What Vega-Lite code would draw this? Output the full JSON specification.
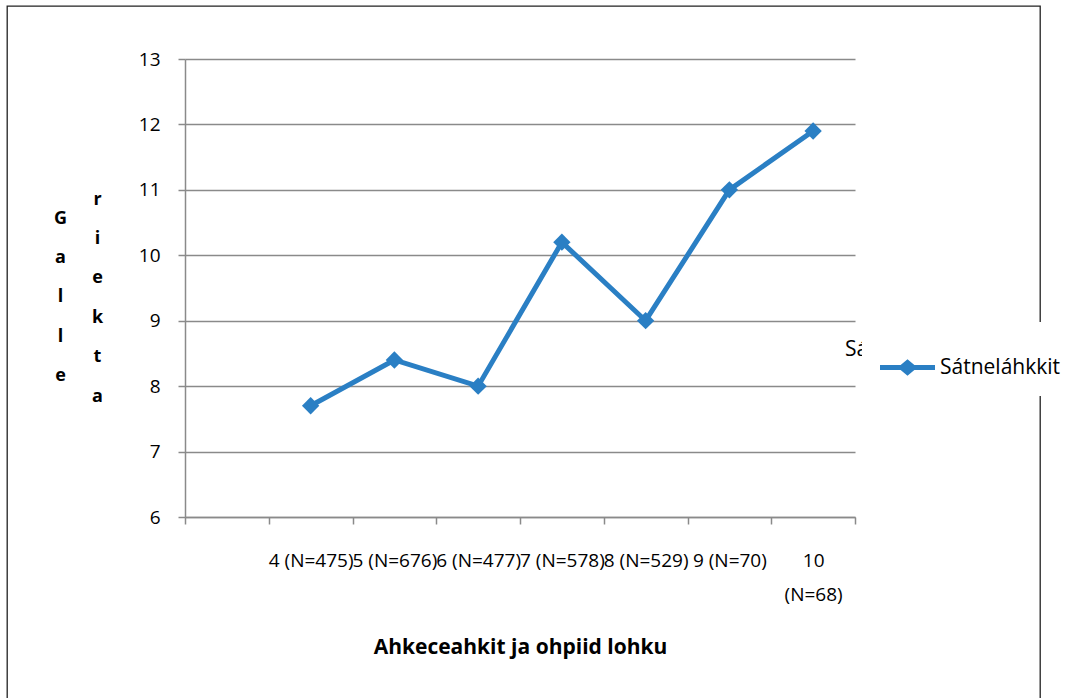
{
  "$schema": "https://vega.github.io/schema/vega-lite/v6.json",
  "autosize": "none",
  "width": 1033,
  "height": 704,
  "padding": {"left": 7, "top": 6, "right": 27, "bottom": 0},
  "background": "white",
  "config": {
    "view": {"stroke": "#222222", "strokeWidth": 1.3, "fill": "white"},
    "font": "Open Sans"
  },
  "data": {
    "values": [
      {"cat": "4 (N=475)", "value": 7.7, "series": "Sátneláhkkit"},
      {"cat": "5 (N=676)", "value": 8.4, "series": "Sátneláhkkit"},
      {"cat": "6 (N=477)", "value": 8.0, "series": "Sátneláhkkit"},
      {"cat": "7 (N=578)", "value": 10.2, "series": "Sátneláhkkit"},
      {"cat": "8 (N=529)", "value": 9.0, "series": "Sátneláhkkit"},
      {"cat": "9 (N=70)", "value": 11.0, "series": "Sátneláhkkit"},
      {"cat": "10 (N=68)", "value": 11.9, "series": "Sátneláhkkit"}
    ]
  },
  "encoding": {
    "x": {
      "field": "cat",
      "type": "nominal",
      "sort": null,
      "scale": {
        "type": "band",
        "domain": ["", "4 (N=475)", "5 (N=676)", "6 (N=477)", "7 (N=578)", "8 (N=529)", "9 (N=70)", "10 (N=68)"],
        "range": [178, 848],
        "paddingInner": 0,
        "paddingOuter": 0
      },
      "axis": {
        "orient": "bottom",
        "offset": -193,
        "grid": false,
        "tickBand": "extent",
        "tickSize": 7,
        "tickColor": "#8a8a8a",
        "tickWidth": 1.5,
        "domainColor": "#8a8a8a",
        "domainWidth": 1.5,
        "labelAngle": 0,
        "labelFont": "Open Sans",
        "labelFontSize": 19,
        "labelColor": "#000000",
        "labelPadding": 27,
        "labelOverlap": false,
        "labelLineHeight": 34,
        "labelExpr": "datum.value == '10 (N=68)' ? ['10', '(N=68)'] : datum.value",
        "title": "Ahkeceahkit ja ohpiid lohku",
        "titleFont": "Open Sans",
        "titleFontSize": 21,
        "titleFontWeight": "bold",
        "titleColor": "#000000",
        "titleY": 130,
        "titleBaseline": "middle"
      }
    }
  },
  "layer": [
    {
      "mark": {"type": "line", "strokeWidth": 5, "color": "#2a7fc4"},
      "encoding": {
        "y": {
          "field": "value",
          "type": "quantitative",
          "scale": {"domain": [6, 13], "range": [511, 53], "nice": false, "zero": false},
          "axis": {
            "orient": "left",
            "offset": -178,
            "values": [6, 7, 8, 9, 10, 11, 12, 13],
            "grid": true,
            "gridColor": "#8a8a8a",
            "gridWidth": 1.5,
            "tickSize": 7,
            "tickColor": "#8a8a8a",
            "tickWidth": 1.5,
            "domainColor": "#8a8a8a",
            "domainWidth": 1.5,
            "labelFont": "Open Sans",
            "labelFontSize": 19,
            "labelColor": "#000000",
            "labelPadding": 18,
            "title": ["G", "a", "l", "l", "e"],
            "titleAngle": 0,
            "titleAlign": "center",
            "titleBaseline": "alphabetic",
            "titleX": -125,
            "titleY": 217,
            "titleFont": "Open Sans",
            "titleFontSize": 18,
            "titleFontWeight": "bold",
            "titleColor": "#000000",
            "titleLineHeight": 39.4
          }
        },
        "color": {
          "field": "series",
          "type": "nominal",
          "scale": {"range": ["#2a7fc4"]},
          "legend": {
            "title": null,
            "orient": "none",
            "legendX": 817,
            "legendY": 333,
            "padding": 0,
            "zindex": 0,
            "symbolSize": 1,
            "symbolOpacity": 0,
            "labelOffset": 0,
            "labelFont": "Open Sans",
            "labelFontSize": 21,
            "labelColor": "#000000"
          }
        }
      }
    },
    {
      "mark": {"type": "point", "shape": "diamond", "filled": true, "size": 300, "opacity": 1},
      "encoding": {
        "y": {
          "field": "value",
          "type": "quantitative",
          "scale": {"domain": [6, 13], "range": [511, 53], "nice": false, "zero": false},
          "axis": {
            "orient": "left",
            "offset": -178,
            "values": [6, 7, 8, 9, 10, 11, 12, 13],
            "grid": false,
            "ticks": false,
            "labels": false,
            "domain": false,
            "title": ["r", "i", "e", "k", "t", "a"],
            "titleAngle": 0,
            "titleAlign": "center",
            "titleBaseline": "alphabetic",
            "titleX": -88,
            "titleY": 198,
            "titleFont": "Open Sans",
            "titleFontSize": 18,
            "titleFontWeight": "bold",
            "titleColor": "#000000",
            "titleLineHeight": 39.4
          }
        },
        "color": {
          "field": "series",
          "type": "nominal",
          "scale": {"range": ["#2a7fc4"]},
          "legend": {
            "title": null,
            "orient": "none",
            "legendX": 855,
            "legendY": 316,
            "fillColor": "white",
            "padding": 18,
            "zindex": 1,
            "symbolType": "M-1,-0.09H-0.25L0,-0.3L0.25,-0.09H1V0.09H0.25L0,0.3L-0.25,0.09H-1Z",
            "symbolSize": 3025,
            "symbolStrokeWidth": 0,
            "symbolFillColor": "#2a7fc4",
            "symbolOpacity": 1,
            "labelFont": "Open Sans",
            "labelFontSize": 21,
            "labelColor": "#000000",
            "labelOffset": 5
          }
        }
      }
    }
  ],
  "resolve": {"scale": {"y": "independent", "color": "independent"}}
}
